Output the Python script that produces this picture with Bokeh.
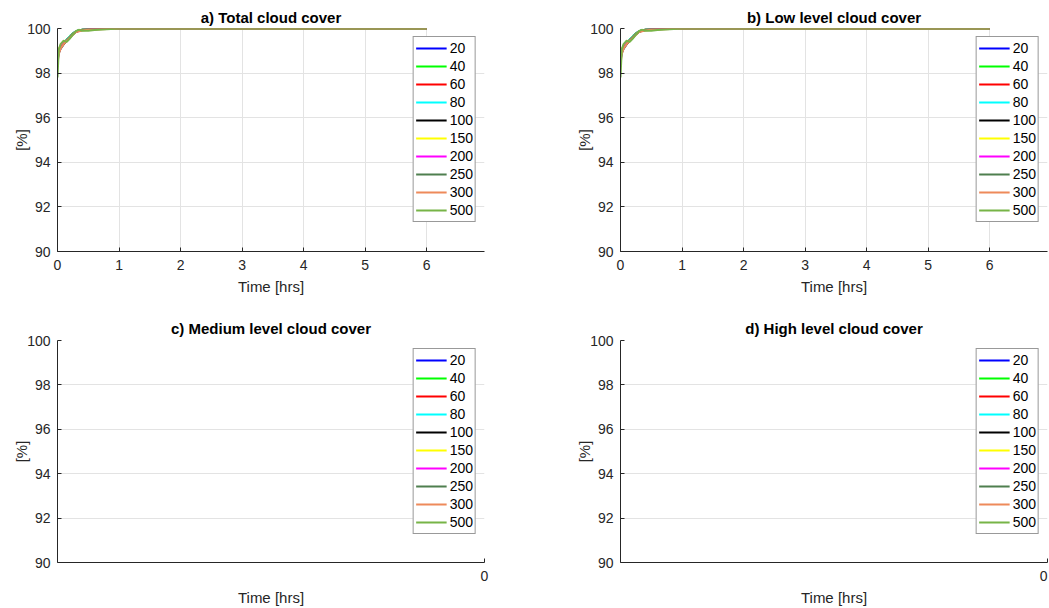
from bokeh.plotting import figure
from bokeh.layouts import gridplot
from bokeh.models import Range1d, FixedTicker, Legend, LegendItem
from bokeh.embed import file_html
from bokeh.resources import INLINE

NAN = float("nan")

# ---------------- data ----------------
labels = ["20", "40", "60", "80", "100", "150", "200", "250", "300", "500"]
colors = ["#0000ff", "#00ff00", "#ff0000", "#00ffff", "#000000",
          "#ffff00", "#ff00ff", "#4f7f4f", "#ee8a5a", "#77b447"]

time_hrs = [0, 0.02, 0.05, 0.1, 0.15, 0.2, 0.25, 0.3, 0.35, 0.4, 0.5,
            0.6, 0.8, 1.0, 1.5, 2, 3, 4, 5, 6]

total_20  = [98.6, 98.9, 99.1, 99.3, 99.5, 99.65, 99.78, 99.87, 99.92, 99.95, 99.97, 99.98, 99.99, 100, 100, 100, 100, 100, 100, 100]
total_40  = [98.7, 98.95, 99.15, 99.35, 99.5, 99.65, 99.78, 99.86, 99.92, 99.95, 99.97, 99.98, 99.99, 100, 100, 100, 100, 100, 100, 100]
total_60  = [98.8, 99.0, 99.15, 99.3, 99.48, 99.62, 99.76, 99.86, 99.91, 99.94, 99.97, 99.98, 99.99, 100, 100, 100, 100, 100, 100, 100]
total_80  = [98.9, 99.0, 99.2, 99.35, 99.5, 99.64, 99.77, 99.87, 99.92, 99.95, 99.97, 99.98, 99.99, 100, 100, 100, 100, 100, 100, 100]
total_100 = [98.9, 99.05, 99.15, 99.3, 99.47, 99.6, 99.75, 99.85, 99.9, 99.94, 99.96, 99.98, 99.99, 100, 100, 100, 100, 100, 100, 100]
total_150 = [99.0, 99.1, 99.2, 99.35, 99.48, 99.62, 99.76, 99.86, 99.91, 99.94, 99.96, 99.98, 99.99, 100, 100, 100, 100, 100, 100, 100]
total_200 = [98.9, 99.05, 99.2, 99.33, 99.46, 99.6, 99.74, 99.85, 99.9, 99.93, 99.96, 99.98, 99.99, 100, 100, 100, 100, 100, 100, 100]
total_250 = [98.5, 98.9, 99.1, 99.3, 99.45, 99.6, 99.74, 99.85, 99.9, 99.93, 99.95, 99.97, 99.99, 100, 100, 100, 100, 100, 100, 100]
total_300 = [98.4, 98.85, 99.1, 99.3, 99.44, 99.58, 99.72, 99.84, 99.88, 99.91, 99.94, 99.96, 99.98, 100, 100, 100, 100, 100, 100, 100]
total_500 = [97.8, 99.05, 99.3, 99.45, 99.4, 99.55, 99.72, 99.88, 99.95, 99.9, 99.9, 99.93, 99.97, 100, 100, 100, 100, 100, 100, 100]

low_20  = [98.6, 98.9, 99.1, 99.3, 99.5, 99.65, 99.78, 99.87, 99.92, 99.95, 99.97, 99.98, 99.99, 100, 100, 100, 100, 100, 100, 100]
low_40  = [98.7, 98.95, 99.15, 99.35, 99.5, 99.65, 99.78, 99.86, 99.92, 99.95, 99.97, 99.98, 99.99, 100, 100, 100, 100, 100, 100, 100]
low_60  = [98.8, 99.0, 99.15, 99.3, 99.48, 99.62, 99.76, 99.86, 99.91, 99.94, 99.97, 99.98, 99.99, 100, 100, 100, 100, 100, 100, 100]
low_80  = [98.9, 99.0, 99.2, 99.35, 99.5, 99.64, 99.77, 99.87, 99.92, 99.95, 99.97, 99.98, 99.99, 100, 100, 100, 100, 100, 100, 100]
low_100 = [98.9, 99.05, 99.15, 99.3, 99.47, 99.6, 99.75, 99.85, 99.9, 99.94, 99.96, 99.98, 99.99, 100, 100, 100, 100, 100, 100, 100]
low_150 = [99.0, 99.1, 99.2, 99.35, 99.48, 99.62, 99.76, 99.86, 99.91, 99.94, 99.96, 99.98, 99.99, 100, 100, 100, 100, 100, 100, 100]
low_200 = [98.9, 99.05, 99.2, 99.33, 99.46, 99.6, 99.74, 99.85, 99.9, 99.93, 99.96, 99.98, 99.99, 100, 100, 100, 100, 100, 100, 100]
low_250 = [98.5, 98.9, 99.1, 99.3, 99.45, 99.6, 99.74, 99.85, 99.9, 99.93, 99.95, 99.97, 99.99, 100, 100, 100, 100, 100, 100, 100]
low_300 = [98.4, 98.85, 99.1, 99.3, 99.44, 99.58, 99.72, 99.84, 99.88, 99.91, 99.94, 99.96, 99.98, 100, 100, 100, 100, 100, 100, 100]
low_500 = [97.8, 99.05, 99.3, 99.45, 99.4, 99.55, 99.72, 99.88, 99.95, 99.9, 99.9, 99.93, 99.97, 100, 100, 100, 100, 100, 100, 100]

# medium / high level cover: no valid values (all NaN)
empty_time_hrs = [NAN]
mid_20 = [NAN]; mid_40 = [NAN]; mid_60 = [NAN]; mid_80 = [NAN]; mid_100 = [NAN]
mid_150 = [NAN]; mid_200 = [NAN]; mid_250 = [NAN]; mid_300 = [NAN]; mid_500 = [NAN]
high_20 = [NAN]; high_40 = [NAN]; high_60 = [NAN]; high_80 = [NAN]; high_100 = [NAN]
high_150 = [NAN]; high_200 = [NAN]; high_250 = [NAN]; high_300 = [NAN]; high_500 = [NAN]

total_series = [total_20, total_40, total_60, total_80, total_100,
                total_150, total_200, total_250, total_300, total_500]
low_series = [low_20, low_40, low_60, low_80, low_100,
              low_150, low_200, low_250, low_300, low_500]
mid_series = [mid_20, mid_40, mid_60, mid_80, mid_100,
              mid_150, mid_200, mid_250, mid_300, mid_500]
high_series = [high_20, high_40, high_60, high_80, high_100,
               high_150, high_200, high_250, high_300, high_500]

titles = ["a) Total cloud cover", "b) Low level cloud cover",
          "c) Medium level cloud cover", "d) High level cloud cover"]
x_ticks_full = [0, 1, 2, 3, 4, 5, 6]
x_ticks_empty = [0]
y_ticks = [90, 92, 94, 96, 98, 100]

FONT = "Liberation Sans"
DARK = "#262626"
GRID = "#e3e3e3"


def make_panel(title, xs, series, has_data, left_col, top_row):
    if has_data:
        xr = Range1d(0, 6.94)
        xt = x_ticks_full
    else:
        xr = Range1d(-1, 0)
        xt = x_ticks_empty
    top_b = 28
    bot_b = 61 if top_row else 46
    frame_h = 223 if top_row else 222
    left_b = 57 if left_col else 49
    right_b = 87 if left_col else 2
    p = figure(
        width=left_b + 427 + right_b,
        height=top_b + frame_h + bot_b,
        x_range=xr, y_range=Range1d(90, 100),
        output_backend="svg", toolbar_location=None,
        min_border_left=left_b, min_border_right=right_b,
        min_border_top=top_b, min_border_bottom=bot_b,
        title=title,
    )
    p.title.align = "center"
    p.title.text_font = FONT
    p.title.text_font_size = "15px"
    p.title.text_font_style = "bold"
    p.title.text_color = "#000000"
    p.title.standoff = 6 if top_row else 8
    p.outline_line_color = None
    p.background_fill_color = "white"

    p.xaxis.ticker = FixedTicker(ticks=xt)
    p.yaxis.ticker = FixedTicker(ticks=y_ticks)
    p.xgrid.ticker = FixedTicker(ticks=xt)
    p.ygrid.ticker = FixedTicker(ticks=y_ticks)
    for g in (p.xgrid, p.ygrid):
        g.grid_line_color = GRID
        g.grid_line_width = 1

    p.xaxis.axis_label = "Time [hrs]"
    p.yaxis.axis_label = "[%]"
    for ax in (p.xaxis, p.yaxis):
        ax.axis_line_color = DARK
        ax.major_tick_line_color = DARK
        ax.major_tick_in = 4
        ax.major_tick_out = 0
        ax.minor_tick_line_color = None
        ax.major_label_text_font = FONT
        ax.major_label_text_font_size = "14px"
        ax.major_label_text_color = DARK
        ax.axis_label_text_font = FONT
        ax.axis_label_text_font_size = "15px"
        ax.axis_label_text_font_style = "normal"
        ax.axis_label_text_color = DARK
    p.xaxis.major_label_standoff = 8
    p.xaxis.axis_label_standoff = 5
    p.yaxis.major_label_standoff = 7
    p.yaxis.axis_label_standoff = -6

    items = []
    for i, (lab, col) in enumerate(zip(labels, colors)):
        r = p.line(xs, series[i], line_color=col, line_width=2)
        items.append(LegendItem(label=lab, renderers=[r]))
    leg = Legend(items=items, location="top_right")
    leg.margin = 8
    leg.padding = 2
    leg.spacing = 0
    leg.glyph_width = 31
    leg.glyph_height = 18
    leg.label_height = 18
    leg.label_standoff = 3
    leg.label_text_font = FONT
    leg.label_text_font_size = "14px"
    leg.label_text_color = "#000000"
    leg.border_line_color = "#333333"
    leg.border_line_width = 1
    leg.background_fill_color = "white"
    leg.background_fill_alpha = 1
    p.add_layout(leg, "center")
    return p


p1 = make_panel(titles[0], time_hrs, total_series, True, True, True)
p2 = make_panel(titles[1], time_hrs, low_series, True, False, True)
p3 = make_panel(titles[2], empty_time_hrs, mid_series, False, True, False)
p4 = make_panel(titles[3], empty_time_hrs, high_series, False, False, False)

grid = gridplot([[p1, p2], [p3, p4]], toolbar_location=None)

open("out.html", "w").write(file_html(grid, INLINE))
